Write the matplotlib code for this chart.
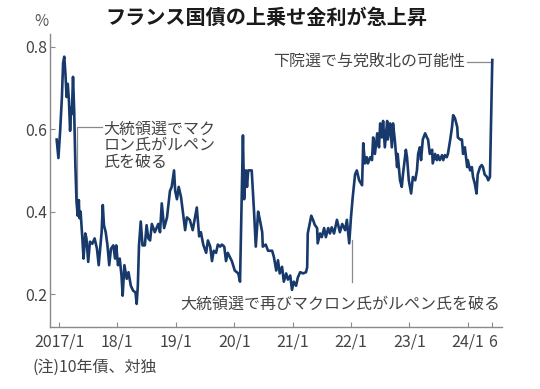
import matplotlib
matplotlib.use("Agg")
import matplotlib.pyplot as plt

# ---- data (decimal year, spread %) ----
years = [
    2016.96, 2016.99, 2017.02, 2017.05, 2017.07, 2017.09, 2017.11, 2017.13, 2017.15, 2017.17,
    2017.19, 2017.21, 2017.22, 2017.24, 2017.26, 2017.28, 2017.30, 2017.32, 2017.34, 2017.35,
    2017.37, 2017.40, 2017.42, 2017.45, 2017.47, 2017.50, 2017.53, 2017.57, 2017.61, 2017.65,
    2017.68, 2017.70, 2017.73, 2017.75, 2017.77, 2017.80, 2017.83, 2017.86, 2017.89, 2017.93,
    2017.96, 2017.98, 2018.01, 2018.04, 2018.07, 2018.09, 2018.12, 2018.16, 2018.19, 2018.23,
    2018.27, 2018.31, 2018.33, 2018.35, 2018.37, 2018.40, 2018.43, 2018.47, 2018.50, 2018.53,
    2018.56, 2018.59, 2018.64, 2018.70, 2018.73, 2018.76, 2018.80, 2018.85, 2018.90, 2018.93,
    2018.97, 2018.99, 2019.02, 2019.05, 2019.09, 2019.12, 2019.16, 2019.19, 2019.24, 2019.29,
    2019.33, 2019.36, 2019.40, 2019.43, 2019.47, 2019.52, 2019.55, 2019.59, 2019.62, 2019.65,
    2019.69, 2019.72, 2019.76, 2019.79, 2019.83, 2019.86, 2019.89, 2019.96, 2020.01, 2020.07,
    2020.10, 2020.15, 2020.17, 2020.20, 2020.22, 2020.24, 2020.30, 2020.34, 2020.37, 2020.41,
    2020.44, 2020.48, 2020.49, 2020.54, 2020.58, 2020.65, 2020.68, 2020.72, 2020.75, 2020.78,
    2020.82, 2020.85, 2020.89, 2020.92, 2020.96, 2020.99, 2021.02, 2021.06, 2021.09, 2021.13,
    2021.18, 2021.23, 2021.25, 2021.26, 2021.32, 2021.35, 2021.38, 2021.42, 2021.43, 2021.47,
    2021.50, 2021.54, 2021.57, 2021.61, 2021.64, 2021.67, 2021.71, 2021.76, 2021.81, 2021.85,
    2021.90, 2021.93, 2021.97, 2022.00, 2022.03, 2022.07, 2022.10, 2022.14, 2022.19, 2022.21,
    2022.24, 2022.27, 2022.29, 2022.33, 2022.36, 2022.38, 2022.41, 2022.45, 2022.48, 2022.50,
    2022.53, 2022.55, 2022.58, 2022.62, 2022.63, 2022.67, 2022.70, 2022.72, 2022.75, 2022.79,
    2022.80, 2022.84, 2022.87, 2022.89, 2022.94, 2022.96, 2022.99, 2023.03, 2023.06, 2023.10,
    2023.13, 2023.15, 2023.18, 2023.20, 2023.23, 2023.27, 2023.30, 2023.32, 2023.35, 2023.39,
    2023.40, 2023.44, 2023.47, 2023.49, 2023.52, 2023.56, 2023.58, 2023.61, 2023.64, 2023.66,
    2023.70, 2023.73, 2023.75, 2023.78, 2023.82, 2023.83, 2023.87, 2023.90, 2023.92, 2023.95,
    2023.99, 2024.00, 2024.04, 2024.07, 2024.09, 2024.12, 2024.15, 2024.17, 2024.21, 2024.24,
    2024.26, 2024.29, 2024.33, 2024.35, 2024.38, 2024.42,
]
spread = [
    0.575, 0.530, 0.596, 0.678, 0.760, 0.776, 0.735, 0.678, 0.710, 0.670,
    0.596, 0.653, 0.637, 0.727, 0.645, 0.514, 0.424, 0.390, 0.428, 0.384,
    0.400, 0.335, 0.286, 0.347, 0.335, 0.278, 0.327, 0.322, 0.335, 0.310,
    0.270, 0.302, 0.350, 0.416, 0.367, 0.350, 0.318, 0.270, 0.310, 0.318,
    0.286, 0.318, 0.270, 0.286, 0.245, 0.196, 0.270, 0.237, 0.253, 0.220,
    0.208, 0.204, 0.176, 0.220, 0.318, 0.376, 0.318, 0.318, 0.367, 0.335,
    0.330, 0.370, 0.350, 0.370, 0.350, 0.420, 0.360, 0.386, 0.450, 0.460,
    0.500, 0.450, 0.430, 0.460, 0.435, 0.400, 0.355, 0.386, 0.380, 0.355,
    0.386, 0.410, 0.340, 0.350, 0.320, 0.300, 0.330, 0.315, 0.280, 0.305,
    0.300, 0.320, 0.315, 0.320, 0.315, 0.280, 0.300, 0.280, 0.257, 0.250,
    0.230, 0.585, 0.430, 0.500, 0.460, 0.500, 0.500, 0.400, 0.315, 0.400,
    0.380, 0.350, 0.315, 0.320, 0.305, 0.305, 0.290, 0.257, 0.282, 0.250,
    0.266, 0.230, 0.250, 0.235, 0.245, 0.210, 0.230, 0.220, 0.240, 0.253,
    0.250, 0.253, 0.265, 0.347, 0.390, 0.380, 0.368, 0.360, 0.323, 0.347,
    0.338, 0.360, 0.338, 0.360, 0.347, 0.362, 0.347, 0.380, 0.350, 0.370,
    0.355, 0.380, 0.323, 0.386, 0.435, 0.490, 0.500, 0.476, 0.464, 0.566,
    0.517, 0.532, 0.517, 0.532, 0.525, 0.580, 0.540, 0.590, 0.556, 0.614,
    0.580, 0.620, 0.556, 0.620, 0.575, 0.614, 0.556, 0.614, 0.575, 0.508,
    0.540, 0.476, 0.460, 0.490, 0.550, 0.532, 0.476, 0.444, 0.484, 0.476,
    0.500, 0.540, 0.556, 0.525, 0.575, 0.590, 0.580, 0.575, 0.540, 0.550,
    0.517, 0.540, 0.525, 0.537, 0.525, 0.537, 0.525, 0.537, 0.532, 0.540,
    0.575, 0.605, 0.634, 0.627, 0.605, 0.580, 0.575, 0.575, 0.540, 0.556,
    0.508, 0.525, 0.500, 0.508, 0.484, 0.468, 0.444, 0.490, 0.508, 0.513,
    0.508, 0.490, 0.484, 0.476, 0.484, 0.768,
]

tick_pos = [2017, 2018, 2019, 2020, 2021, 2022, 2023, 2024, 2024.417]
tick_labels = ["2017/1", "18/1", "19/1", "20/1", "21/1", "22/1", "23/1", "24/1", "6"]
ytick_pos = [0.2, 0.4, 0.6, 0.8]
ytick_labels = ["0.2", "0.4", "0.6", "0.8"]

title = "フランス国債の上乗せ金利が急上昇"
note = "(注)10年債、対独"
ann1 = "大統領選でマク\nロン氏がルペン\n氏を破る"
ann2 = "大統領選で再びマクロン氏がルペン氏を破る"
ann3 = "下院選で与党敗北の可能性"

NUM_FONT = ["Liberation Sans Narrow", "Noto Sans CJK JP", "DejaVu Sans"]
JP_FONT = ["Noto Sans CJK JP", "DejaVu Sans"]
plt.rcParams["font.family"] = NUM_FONT

LINE_C = "#17396b"
GRAY = "#8a8a8a"
TXT = "#444444"

fig = plt.figure(figsize=(5.4, 3.89), dpi=100)
ax = fig.add_axes([0.0926, 0.1594, 0.8370, 0.7532])

ax.plot(years, spread, color=LINE_C, lw=1.9, solid_joinstyle="round", zorder=3)

ax.set_xlim(2016.846, 2024.586)
ax.set_ylim(0.12, 0.831)

for s in ["top", "right"]:
    ax.spines[s].set_visible(False)
for s in ["left", "bottom"]:
    ax.spines[s].set_color(GRAY)
    ax.spines[s].set_linewidth(1.0)

ax.set_xticks(tick_pos)
ax.set_xticklabels(tick_labels)
ax.set_yticks(ytick_pos)
ax.set_yticklabels(ytick_labels)
ax.tick_params(axis="x", direction="in", length=3.5, color=GRAY, labelsize=11.5,
               labelcolor=TXT, pad=5)
ax.tick_params(axis="y", direction="in", length=3.5, color=GRAY, labelsize=11.5,
               labelcolor=TXT, pad=2)

# annotation 1 (May 2017 election)
x1 = years[16]
ax.plot([x1, x1, 2017.74], [spread[16], 0.605, 0.605], color=GRAY, lw=0.9, zorder=2)
ax.text(2017.76, 0.621, ann1, fontsize=11.5, color=TXT, family=JP_FONT,
        ha="left", va="top", linespacing=0.98)

# annotation 2 (2022 election)
x2 = 2022.02
ax.plot([x2, x2], [0.33, 0.229], color=GRAY, lw=0.9, zorder=2)
ax.text(2024.55, 0.175, ann2, fontsize=11.5, color=TXT, family=JP_FONT,
        ha="right", va="center")

# annotation 3 (2024 lower house election)
x3 = years[-1]
ax.plot([2023.98, x3], [0.764, 0.764], color=GRAY, lw=0.9, zorder=2)
ax.text(2023.96, 0.764, ann3, fontsize=11.5, color=TXT, family=JP_FONT,
        ha="right", va="center")

fig.text(0.4926, 0.956, title, fontsize=14.5, fontweight="bold", color="#1a1a1a",
         family=JP_FONT, ha="center", va="center")
fig.text(41 / 540, 1 - 21 / 389, "%", fontsize=11, color="#555555", ha="center", va="center")
fig.text(33 / 540, 1 - 367 / 389, note, fontsize=11.5, color=TXT, family=JP_FONT,
         ha="left", va="center")

fig.savefig("out.png", dpi=100)
